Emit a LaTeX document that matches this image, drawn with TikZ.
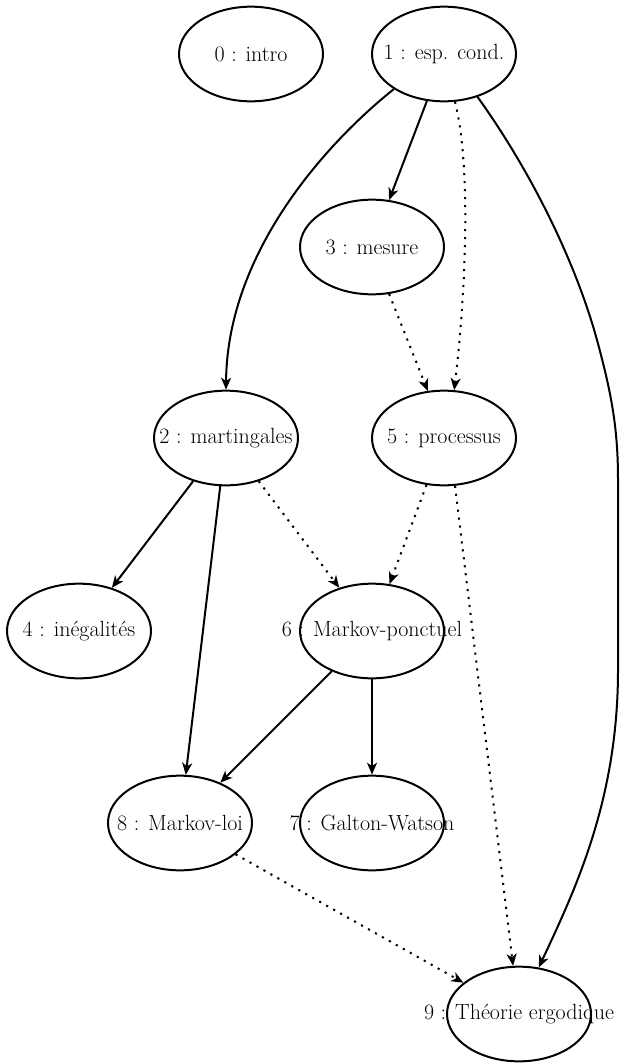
\documentclass[tikz,border=0pt]{standalone}
\usetikzlibrary{shapes.geometric,arrows.meta}
\begin{document}
\begin{tikzpicture}[x=0.75pt,y=-0.75pt,
  vtx/.style={ellipse,draw,line width=1.5pt,minimum width=108pt,minimum height=71pt,inner sep=0pt},
  lbl/.style={font=\fontsize{16.5}{19}\selectfont,inner sep=0pt},
  edge/.style={line width=1.5pt,-{Stealth[length=9pt,width=7.5pt,inset=2.6pt]}},
  dotedge/.style={edge,dash pattern=on 1.6pt off 4.4pt}]
\useasboundingbox (0,0) rectangle (621,1063);
% nodes
\node[vtx] (n0) at (251,54) {};
\node[vtx] (n1) at (444,54) {};
\node[vtx] (n3) at (372,247) {};
\node[vtx] (n2) at (226,438) {};
\node[vtx] (n5) at (444,438) {};
\node[vtx] (n4) at (79,631) {};
\node[vtx] (n6) at (372,631) {};
\node[vtx] (n8) at (180,823) {};
\node[vtx] (n7) at (372,823) {};
\node[vtx] (n9) at (519,1014) {};
\node[lbl] (t0) at (n0) {0 : intro};
\node[lbl] (t1) at (n1) {1 : esp. cond.};
\node[lbl] (t3) at (n3) {3 : mesure};
\node[lbl] (t2) at (n2) {2 : martingales};
\node[lbl] (t5) at (n5) {5 : processus};
\node[lbl] (t4) at (n4) {4 : inégalités};
\node[lbl] (t6) at (n6) {6 : Markov-ponctuel};
\node[lbl] (t8) at (n8) {8 : Markov-loi};
\node[lbl] (t7) at (n7) {7 : Galton-Watson};
\node[lbl] (t9) at (n9) {9 : Théorie ergodique};
% edges
\draw[edge] (n1.215) .. controls (330,140) and (227,250) .. (n2.north);
\draw[edge] (n1.250) -- (n3.70);
\draw[dotedge] (n1.283) .. controls (472,170) and (465,300) .. (n5.78);
\draw[edge] (n1.308) .. controls (530,170) and (575,260) .. (597,340)
  .. controls (612,395) and (618,430) .. (618,480) -- (618,670)
  .. controls (618,800) and (575,890) .. (n9.67);
\draw[dotedge] (n3.290) -- (n5.109);
\draw[edge] (n2) -- (n4);
\draw[edge] (n2) -- (n8);
\draw[dotedge] (n2) -- (n6);
\draw[dotedge] (n5) -- (n6);
\draw[dotedge] (n5.283) -- (n9.97);
\draw[edge] (n6) -- (n8);
\draw[edge] (n6) -- (n7);
\draw[dotedge] (n8) -- (n9);
\end{tikzpicture}
\end{document}
